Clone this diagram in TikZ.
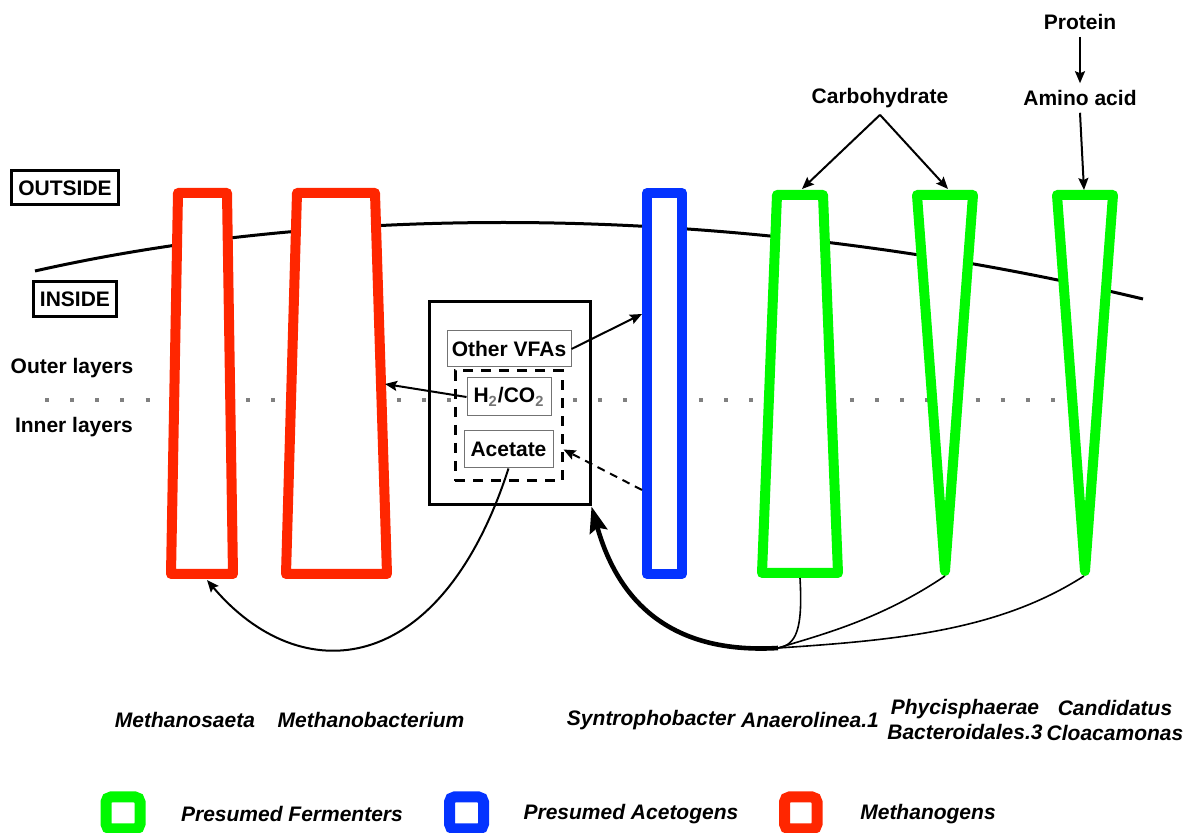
\documentclass[tikz,border=0pt]{standalone}
\usepackage{fontspec}
\setmainfont{Liberation Sans}
\usetikzlibrary{arrows.meta}
\definecolor{methred}{RGB}{255,38,0}
\definecolor{acetblue}{RGB}{4,51,255}
\definecolor{fermgreen}{RGB}{0,249,0}
\begin{document}
\begin{tikzpicture}[x=0.5pt,y=-0.5pt,
    lbl/.style={font=\fontsize{10.5}{12.5}\selectfont\bfseries},
    taxon/.style={font=\fontsize{10.5}{12.5}\selectfont\bfseries\itshape,align=center},
    tag/.style={lbl,draw,line width=1.5pt},
    pool/.style={lbl,draw=black!55,fill=white,line width=0.5pt,inner sep=0pt},
    cell/.style={line width=5pt,line join=round,fill=white},
    key/.style={line width=5.5pt,rounded corners=2.5pt,fill=white},
    arr/.style={line width=1pt,-{Stealth[length=6pt,width=5pt,inset=1pt]}},
    link/.style={line width=0.8pt}]
    \useasboundingbox (0,0) rectangle (1196,833);
    %% Membrane and layer boundary
    \draw[line width=1.5pt] (35,271) .. controls (350,200) and (750,205) .. (1143,299);
    \draw[gray,line width=2pt,dash pattern=on 2pt off 10.575pt] (45,400) -- (1056,400);
    %% Side labels
    \node[tag,minimum width=51.5pt,minimum height=17pt] (outside) at (65,188) {OUTSIDE};
    \node[tag,minimum width=40.5pt,minimum height=17.5pt] (inside) at (75,299) {INSIDE};
    \node[lbl] (outer) at (72,368) {Outer layers};
    \node[lbl] (inner) at (74,427) {Inner layers};
    %% Cells
    \draw[cell,draw=methred] (178,193) -- (227,193) -- (233,574) -- (171,574) -- cycle;
    \draw[cell,draw=methred] (297,193) -- (375,193) -- (387,574) -- (286,574) -- cycle;
    \draw[cell,draw=acetblue] (647,193) rectangle (682,574);
    \draw[cell,draw=fermgreen] (777,195) -- (823,195) -- (838,573) -- (762,573) -- cycle;
    \draw[cell,draw=fermgreen] (917,195) -- (973,195) -- (945,571) -- cycle;
    \draw[cell,draw=fermgreen] (1057,195) -- (1113,195) -- (1085,571) -- cycle;
    \coordinate (saeta-b) at (207,580);
    \coordinate (bact-e) at (385,384);
    \coordinate (synt-in) at (642,314);
    \coordinate (synt-out) at (642,490);
    \coordinate (anaero-t) at (802,189);
    \coordinate (anaero-b) at (800,578);
    \coordinate (phyc-t) at (948,189);
    \coordinate (phyc-b) at (945,576);
    \coordinate (cand-t) at (1084,190);
    \coordinate (cand-b) at (1084,576);
    \coordinate (hub) at (778,648);
    %% Intermediate pool
    \node[draw,line width=1.5pt,minimum width=80.5pt,minimum height=101.5pt,inner sep=0pt] (box) at (509.5,403.5) {};
    \node[draw,line width=1.5pt,dash pattern=on 5pt off 4pt,minimum width=53.5pt,minimum height=55pt,inner sep=0pt] (dbox) at (508.5,426) {};
    \node[pool,minimum width=62pt,minimum height=18pt] (vfa) at (509,349) {Other VFAs};
    \node[pool,minimum width=42pt,minimum height=19pt] (h2) at (509,397) {H\textsubscript{\color{black!55}2}/CO\textsubscript{\color{black!55}2}};
    \node[pool,minimum width=44.5pt,minimum height=18.5pt] (acetate) at (508.5,449.5) {Acetate};
    %% Substrates
    \node[lbl] (carb) at (880,98) {Carbohydrate};
    \node[lbl] (protein) at (1080,22) {Protein};
    \node[lbl] (amino) at (1080,98) {Amino acid};
    \draw[arr] (carb.south) -- (anaero-t);
    \draw[arr] (carb.south) -- (phyc-t);
    \draw[arr] (protein.south) -- (amino.north);
    \draw[arr] (amino.south) -- (cand-t);
    %% Flows
    \draw[arr] (vfa.east) -- (synt-in);
    \draw[arr] (h2.west) -- (bact-e);
    \draw[arr,dash pattern=on 4pt off 3pt] (synt-out) -- (dbox.east |- acetate.east);
    \draw[arr] (acetate.south) .. controls (440,680) and (300,690) .. (saeta-b);
    \draw[link] (anaero-b) .. controls (803,630) and (796,645) .. (hub);
    \draw[link] (phyc-b) .. controls (880,620) and (820,635) .. (hub);
    \draw[link] (cand-b) .. controls (1000,630) and (900,640) .. (hub);
    \draw[line width=2.3pt,-{Stealth[length=13pt,width=9pt,inset=2pt]}] (hub) .. controls (660,655) and (615,590) .. (box.south east);
    %% Taxa
    \node[taxon] (saeta) at (185,720) {Methanosaeta};
    \node[taxon] (bact) at (371,720) {Methanobacterium};
    \node[taxon] (synt) at (651,720) {Syntrophobacter};
    \node[taxon] (anaero) at (810,720) {Anaerolinea.1};
    \node[taxon] (phyc) at (965,720) {Phycisphaerae\\Bacteroidales.3};
    \node[taxon] (cand) at (1115,720) {Candidatus\\Cloacamonas};
    %% Legend
    \draw[key,draw=fermgreen] (106,797) rectangle (140,829);
    \draw[key,draw=acetblue] (449.5,797) rectangle (483.5,829);
    \draw[key,draw=methred] (784.5,797) rectangle (817,829);
    \node[taxon] (ferm) at (292,814) {Presumed Fermenters};
    \node[taxon] (acet) at (631,814) {Presumed Acetogens};
    \node[taxon] (meth) at (928,814) {Methanogens};
\end{tikzpicture}
\end{document}
